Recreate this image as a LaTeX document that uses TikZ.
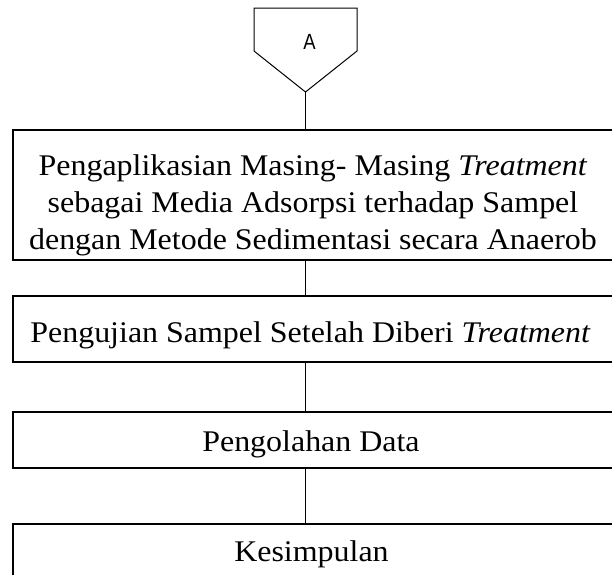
\documentclass[tikz,border=0pt]{standalone}
\usepackage{fontspec}
\setmainfont{Liberation Serif}[FakeStretch=1.065]
\newfontfamily\sansA{Liberation Sans}[FakeStretch=0.84]
\begin{document}
\begin{tikzpicture}[x=1pt,y=-1pt,
  box/.style={draw, line width=1.4pt, anchor=north west, inner sep=0pt, outer sep=0pt, minimum width=600pt},
  txt/.style={inner sep=0pt, align=center, font=\fontsize{30}{37}\selectfont},
  conn/.style={line width=1pt}]
\useasboundingbox (0,0) rectangle (612,574);
% off-page connector
\coordinate (p1) at (254,8);
\coordinate (p2) at (357,8);
\coordinate (p3) at (357,51);
\coordinate (tip) at (305.5,92);
\coordinate (p5) at (254,51);
\draw[conn, line join=miter] (p1) -- (p2) -- (p3) -- (tip) -- (p5) -- cycle;
\node[font=\sansA\fontsize{22}{22}\selectfont, anchor=base, inner sep=0pt] (A) at (309.5,49) {A};
% boxes
\node[box, minimum height=130pt] (b1) at (13,130) {};
\node[box, minimum height=66pt] (b2) at (13,296) {};
\node[box, minimum height=56pt] (b3) at (13,412) {};
\node[box, minimum height=56pt] (b4) at (13,524) {};
% texts
\node[txt, anchor=center] (t1) at (313,205) {Pengaplikasian Masing- Masing \textit{Treatment}\\sebagai Media Adsorpsi terhadap Sampel\\dengan Metode Sedimentasi secara Anaerob};
\node[txt, anchor=base] (t2) at (310.5,342) {Pengujian Sampel Setelah Diberi \textit{Treatment}};
\node[txt, anchor=base] (t3) at (311,451) {Pengolahan Data};
\node[txt, anchor=base] (t4) at (311.5,561) {Kesimpulan};
% connectors
\draw[conn] (tip) -- (tip |- b1.north);
\draw[conn] (tip |- b1.south) -- (tip |- b2.north);
\draw[conn] (tip |- b2.south) -- (tip |- b3.north);
\draw[conn] (tip |- b3.south) -- (tip |- b4.north);
\end{tikzpicture}
\end{document}
